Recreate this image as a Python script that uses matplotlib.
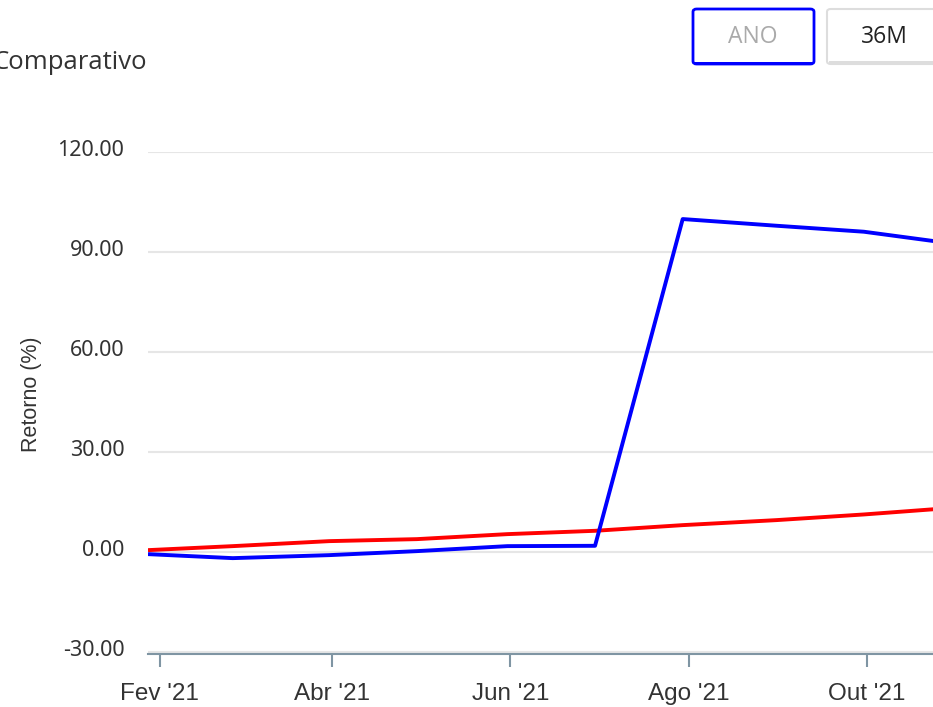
import matplotlib
matplotlib.use("Agg")
import matplotlib.pyplot as plt
import matplotlib.transforms as mtransforms
from matplotlib.patches import FancyBboxPatch
from datetime import datetime

dates = ["2021-01-28", "2021-02-26", "2021-03-31", "2021-04-30", "2021-05-31",
         "2021-06-30", "2021-07-30", "2021-08-31", "2021-09-30", "2021-10-29"]
fund = [-0.7, -1.9, -1.0, 0.2, 1.7, 1.8, 99.8, 97.8, 96.0, 92.6]
bench = [0.5, 1.7, 3.2, 3.8, 5.3, 6.3, 8.0, 9.5, 11.2, 13.1]

y_ticks = [-30, 0, 30, 60, 90, 120]
x_tick_dates = ["2021-02-01", "2021-04-01", "2021-06-01", "2021-08-01", "2021-10-01"]
x_tick_labels = ["Fev '21", "Abr '21", "Jun '21", "Ago '21", "Out '21"]

title = "Comparativo"
y_label = "Retorno (%)"
buttons = ["ANO", "36M"]

W, H = 933, 707
fig = plt.figure(figsize=(W / 100, H / 100), dpi=100)

left, right = 148 / W, 1.0
bottom, top = 1 - 653.5 / H, 1 - 151.7 / H
ax = fig.add_axes([left, bottom, right - left, top - bottom])

xd = [datetime.strptime(d, "%Y-%m-%d") for d in dates]
ax.plot(xd, bench, color="#ff0000", lw=2.8, zorder=3, solid_capstyle="butt")
ax.plot(xd, fund, color="#0000ff", lw=2.8, zorder=4, solid_capstyle="butt")

ax.set_xlim(datetime(2021, 1, 28), datetime(2021, 10, 23, 16))
ax.set_ylim(-30.5, 120)

ax.set_yticks(y_ticks)
ax.set_yticklabels([f"{v:.2f}" for v in y_ticks], fontfamily="Noto Sans", fontsize=15.5, color="#333333")
ax.tick_params(axis="y", length=0, pad=17)
shift = mtransforms.ScaledTranslation(0, 4 / 100, fig.dpi_scale_trans)
for lbl in ax.get_yticklabels():
    lbl.set_transform(lbl.get_transform() + shift)
for v in y_ticks:
    ax.axhline(v, color="#e6e6e6", lw=1.5, zorder=1)

ax.set_xticks([datetime.strptime(d, "%Y-%m-%d") for d in x_tick_dates])
ax.set_xticklabels(x_tick_labels, fontfamily="Liberation Sans", fontsize=17.5, color="#333333")
ax.tick_params(axis="x", length=9.5, width=1.5, color="#7f95a3", pad=12)

for s in ["top", "right", "left"]:
    ax.spines[s].set_visible(False)
ax.spines["bottom"].set_color("#7f95a3")
ax.spines["bottom"].set_linewidth(1.5)
ax.grid(False)

fig.text(31 / W, 1 - 394 / H, y_label, rotation=90, ha="center", va="center",
         fontfamily="Liberation Sans", fontsize=15.5, color="#333333")

fig.text(147 / W, 1 - 69 / H, title, ha="right", va="baseline",
         fontfamily="Open Sans", fontsize=18.5, color="#333333")

# buttons
def px(x0, y0, w, h):
    return (x0 / W, 1 - (y0 + h) / H, w / W, h / H)

bx, by, bw, bh = px(693, 9, 121, 55)
fig.patches.append(FancyBboxPatch((bx, by), bw, bh, boxstyle="round,pad=0,rounding_size=0.004",
                                  transform=fig.transFigure, fc="white", ec="#0000ff", lw=2))
fig.patches.append(FancyBboxPatch((bx + 0.002, by), bw - 0.004, 2.5 / H, boxstyle="square,pad=0",
                                  transform=fig.transFigure, fc="#0000ff", ec="none"))
fig.text(753 / W, 1 - 37 / H, buttons[0], ha="center", va="center",
         fontfamily="Open Sans", fontsize=16.5, color="#aaaaaa")

bx, by, bw, bh = px(827, 9, 120, 55)
fig.patches.append(FancyBboxPatch((bx, by), bw, bh, boxstyle="round,pad=0,rounding_size=0.004",
                                  transform=fig.transFigure, fc="white", ec="#dddddd", lw=1.5))
fig.patches.append(FancyBboxPatch((bx + 0.002, by), bw - 0.004, 3.5 / H, boxstyle="square,pad=0",
                                  transform=fig.transFigure, fc="#dddddd", ec="none"))
fig.text(884 / W, 1 - 37 / H, buttons[1], ha="center", va="center",
         fontfamily="Open Sans", fontsize=16.5, color="#222222")

fig.savefig("out.png", dpi=100)
